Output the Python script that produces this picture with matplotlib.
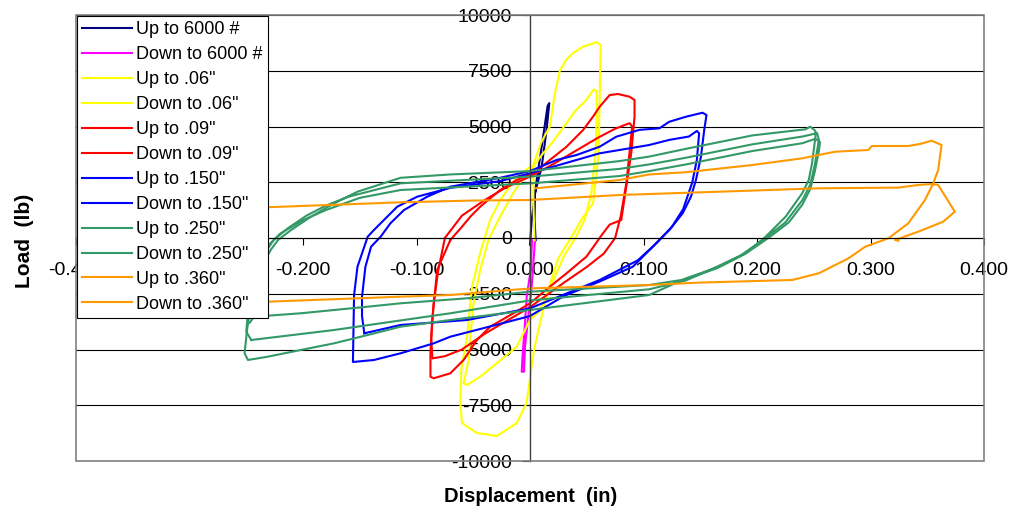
import matplotlib
matplotlib.use("Agg")
import matplotlib.pyplot as plt
from matplotlib.ticker import FixedLocator, FixedFormatter
from matplotlib.patches import Rectangle

plt.rcParams['font.family'] = ['Liberation Sans', 'DejaVu Sans']

# ---------------- data (displacement in, load lb) ----------------
labels = ['Up to 6000 #', 'Down to 6000 #', 'Up to .06"', 'Down to .06"',
          'Up to .09"', 'Down to .09"', 'Up to .150"', 'Down to .150"',
          'Up to .250"', 'Down to .250"', 'Up to .360"', 'Down to .360"']
colors = ['#000080', '#FF00FF', '#FFFF00', '#FFFF00', '#FF0000', '#FF0000',
          '#0000FF', '#0000FF', '#339966', '#339966', '#FF9900', '#FF9900']

up6000_x = [0.000, 0.0015, 0.0059, 0.0103, 0.0137, 0.0155, 0.0170, 0.0146, 0.0103, 0.0044, 0.0040, 0.0050]
up6000_y = [-300, 807, 2600, 4094, 5291, 5919, 6050, 4843, 3197, 2004, 800, -100]

dn6000_x = [0.0018, 0.0006, -0.0029, -0.0044, -0.0064, -0.0073, -0.0053, -0.0044, -0.0015, 0.0015, 0.0044]
dn6000_y = [-100, -1435, -2632, -3826, -5172, -5995, -5995, -4874, -3529, -2184, -90]

up06_x = [0.004, 0.003, 0.003, 0.010, 0.0175, 0.022, 0.0263, 0.032, 0.038, 0.0468, 0.0585, 0.0623,
          0.0618, 0.0614, 0.0605, 0.0556, 0.045, 0.036, 0.025, 0.015, 0.008, 0.003, 0.000, -0.003,
          -0.0117, -0.0292, -0.0468, -0.0599, -0.0614, -0.0605, -0.0555, -0.0511, -0.0439, -0.0351,
          -0.0263, -0.012, 0.0]
up06_y = [-100, 1500, 3300, 4300, 5000, 6500, 7500, 8000, 8300, 8580, 8780, 8650,
          7500, 6336, 3800, 1556, 800, 0, -900, -2500, -4000, -5170, -6300, -7400,
          -8300, -8880, -8744, -8300, -7400, -5900, -4426, -2184, -673, 807,
          1700, 2700, 3200]

dn06_x = [0.0, 0.010, 0.020, 0.030, 0.040, 0.0497, 0.056, 0.0585, 0.059, 0.058, 0.054, 0.048,
          0.040, 0.030, 0.018, 0.008, 0.0, -0.0117, -0.0292, -0.0439, -0.0555, -0.0585, -0.054,
          -0.0526, -0.0497, -0.0439, -0.0366, -0.028, -0.015, -0.003]
dn06_y = [3000, 3700, 4300, 5000, 5700, 6200, 6650, 6600, 6000, 4000, 2000, 800,
          0, -800, -2200, -3300, -3677, -4874, -5618, -6219, -6591, -6515, -5470,
          -4426, -2928, -1435, -90, 800, 2000, 2900]

up09_x = [-0.0702, -0.060, -0.0526, -0.0439, -0.0263, -0.0117, 0.0029, 0.0175, 0.0322, 0.0468,
          0.0555, 0.0614, 0.0702, 0.0775, 0.0877, 0.0921, 0.0921, 0.0892, 0.0848, 0.0804,
          0.0702, 0.0643, 0.0497, 0.0322, 0.0175, 0.0, -0.0146, -0.0351, -0.0468, -0.0585,
          -0.0702, -0.0848, -0.0877, -0.0877, -0.0862, -0.0818, -0.0702]
up09_y = [-90, 500, 955, 1403, 2152, 2601, 2901, 3498, 4094, 4843,
          5439, 5888, 6412, 6457, 6336, 6188, 5439, 3798, 2300, 807,
          600, 211, -838, -1583, -2184, -2928, -3376, -3977, -4574, -5470,
          -6067, -6291, -6219, -5157, -3677, -1435, -90]

dn09_x = [-0.075, -0.060, -0.040, -0.020, 0.0, 0.020, 0.040, 0.060, 0.075, 0.0877, 0.090, 0.088,
          0.085, 0.080, 0.075, 0.065, 0.050, 0.030, 0.0, -0.020, -0.040, -0.060, -0.075, -0.086,
          -0.087, -0.085, -0.081, -0.075]
dn09_y = [0, 1000, 1700, 2300, 2750, 3300, 3900, 4500, 4900, 5150, 5000, 4000,
          2500, 1000, 0, -700, -1300, -2000, -3100, -3700, -4300, -5000, -5300, -5400,
          -4500, -3000, -1500, 0]

up150_x = [-0.146, -0.148, -0.148, -0.145, -0.140, -0.1316, -0.123, -0.111, -0.0906, -0.0702,
           -0.0263, 0.0, 0.0234, 0.041, 0.0614, 0.076, 0.0965, 0.114, 0.1228, 0.1375, 0.152,
           0.1555, 0.1535, 0.1506, 0.1462, 0.1418, 0.1345, 0.1228, 0.1082, 0.0906, 0.0614,
           0.030, 0.0, -0.0263, -0.0702, -0.0848, -0.114, -0.1375, -0.156, -0.1555, -0.155,
           -0.152, -0.146, -0.143, -0.1375, -0.1316, -0.117, -0.0994, -0.0702]
up150_y = [-4274, -3500, -2632, -1287, -390, 58, 659, 1255, 1852, 2300,
           2700, 3000, 3498, 3722, 4094, 4542, 4850, 4919, 5215, 5439, 5618,
           5515, 4843, 3646, 2601, 1852, 1108, 359, -390, -1287, -1950,
           -2600, -3500, -3850, -4426, -4722, -5170, -5470, -5560, -4000, -2556,
           -1287, -390, 58, 359, 659, 1403, 1852, 2250]

dn150_x = [-0.0702, -0.0263, 0.0, 0.0614, 0.105, 0.1228, 0.140, 0.147, 0.149, 0.147, 0.143,
           0.135, 0.125, 0.110, 0.095, 0.0614, 0.0, -0.0555, -0.114, -0.146]
dn150_y = [2250, 2550, 2900, 3798, 4170, 4400, 4550, 4800, 4694, 3500, 2500,
           1300, 500, -300, -1000, -1883, -3153, -3677, -3900, -4274]

up250_x = [-0.236, -0.228, -0.222, -0.2105, -0.193, -0.1725, -0.152, -0.114, -0.0702, 0.0, 0.079,
           0.105, 0.1375, 0.1667, 0.1959, 0.2427, 0.247, 0.2515, 0.2515, 0.2485, 0.2456, 0.2398,
           0.2252, 0.2076, 0.19, 0.1667, 0.1375, 0.105, 0.0, -0.0702, -0.114, -0.143, -0.1725,
           -0.202, -0.231, -0.2485, -0.2515, -0.249, -0.244, -0.234, -0.226, -0.213, -0.197,
           -0.18, -0.16, -0.114, 0.0, 0.079, 0.105, 0.1375, 0.1667, 0.1959, 0.24, 0.253, 0.2545,
           0.251, 0.247, 0.240, 0.225, 0.205, 0.185, 0.160, 0.1375, 0.105, 0.0, -0.0702, -0.1725,
           -0.2456]
up250_y = [-1200, -500, -90, 359, 955, 1556, 2076, 2700, 2850, 3000, 3450,
           3650, 4000, 4300, 4600, 4874, 4991, 4800, 4542, 3350, 2601, 2004,
           955, 58, -686, -1287, -1807, -2556, -3228, -3677, -3977, -4350, -4722,
           -5022, -5322, -5470, -5170, -4000, -2500, -700, -100, 450, 1000,
           1450, 1850, 2452, 2750, 3100, 3300, 3600, 3900, 4200, 4550, 4700, 4400,
           3300, 2400, 1700, 700, -100, -800, -1400, -1900, -2300, -2800, -3376, -4125,
           -4574]

dn250_x = [-0.2456, -0.250, -0.247, -0.240, -0.232, -0.22, -0.2, -0.18, -0.15, -0.114, 0.0,
           0.079, 0.105, 0.1375, 0.1667, 0.1959, 0.24, 0.2515, 0.2555, 0.2545, 0.251, 0.247,
           0.240, 0.228, 0.210, 0.19, 0.165, 0.1375, 0.105, 0.0, -0.0555, -0.114, -0.143,
           -0.202, -0.243, -0.247]
dn250_y = [-4574, -4200, -2500, -1800, -400, 200, 800, 1250, 1800, 2152, 2450,
           2780, 3000, 3300, 3600, 3900, 4250, 4450, 4300, 3900, 3000, 2200,
           1500, 700, 0, -700, -1350, -1850, -2108, -2408, -2704, -2928, -3080,
           -3376, -3529, -3800]

up360_x = [0.005, 0.0789, 0.105, 0.1375, 0.1959, 0.2398, 0.269, 0.2982, 0.3011, 0.333, 0.3436,
           0.3538, 0.3626, 0.3596, 0.3553, 0.348, 0.3333, 0.3158, 0.2953, 0.2807, 0.2544, 0.231]
up360_y = [2228, 2601, 2850, 2950, 3273, 3574, 3870, 3946, 4125, 4125, 4215,
           4363, 4170, 3049, 2452, 1704, 659, -13, -390, -910, -1583, -1883]

dn360_x = [0.231, 0.149, 0.105, 0.0029, -0.0175, -0.0702, -0.114, -0.231, -0.30, -0.34, -0.36,
           -0.365, -0.36, -0.35, -0.33, -0.231, -0.114, -0.05, 0.0, 0.0789, 0.1667, 0.2544,
           0.3246, 0.342, 0.3538, 0.3596, 0.3743, 0.364, 0.342, 0.3216, 0.3246]
dn360_y = [-1883, -2000, -2108, -2256, -2332, -2556, -2632, -2856, -3100, -3400, -3587,
           -3000, -1000, 700, 1150, 1380, 1600, 1680, 1704, 1928, 2076, 2228,
           2260, 2377, 2421, 2377, 1179, 731, 282, -90, -121]

series_x = [up6000_x, dn6000_x, up06_x, dn06_x, up09_x, dn09_x,
            up150_x, dn150_x, up250_x, dn250_x, up360_x, dn360_x]
series_y = [up6000_y, dn6000_y, up06_y, dn06_y, up09_y, dn09_y,
            up150_y, dn150_y, up250_y, dn250_y, up360_y, dn360_y]

x_ticks = [-0.4, -0.3, -0.2, -0.1, 0.0, 0.1, 0.2, 0.3, 0.4]
# the -0.300 label sits completely behind the legend in the reference
x_tick_labels = ['-0.400', '', '-0.200', '-0.100', '0.000', '0.100', '0.200', '0.300', '0.400']
y_ticks = [-10000, -7500, -5000, -2500, 0, 2500, 5000, 7500, 10000]
y_tick_labels = ['-10000', '-7500', '-5000', '-2500', '0', '2500', '5000', '7500', '10000']

# ---------------- figure ----------------
W, H = 1018, 518
fig = plt.figure(figsize=(W / 100, H / 100), dpi=100)
L, R, T, B = 76, 984, 15, 461
ax = fig.add_axes([L / W, 1 - B / H, (R - L) / W, (B - T) / H])
ax.set_xlim(-0.4, 0.4)
ax.set_ylim(-10000, 10000)

for yv in y_ticks:
    ax.axhline(yv, color='black', lw=0.8, zorder=1)

for xs, ys, c, lab in zip(series_x, series_y, colors, labels):
    ax.plot(xs, ys, color=c, lw=1.5, label=lab, zorder=2)

for s in ['top', 'right']:
    ax.spines[s].set_visible(False)
ax.spines['left'].set_position(('data', 0))
ax.spines['bottom'].set_position(('data', 0))
ax.spines['left'].set_color('#404040')
ax.spines['bottom'].set_color('black')
ax.spines['left'].set_linewidth(1.0)
ax.spines['bottom'].set_linewidth(0.8)
ax.add_patch(Rectangle((0, 0), 1, 1, transform=ax.transAxes, fill=False,
                       edgecolor='#808080', lw=1.2, zorder=2.6, clip_on=False))

ax.xaxis.set_major_locator(FixedLocator(x_ticks))
ax.yaxis.set_major_locator(FixedLocator(y_ticks))
ax.xaxis.set_major_formatter(FixedFormatter(x_tick_labels))
ax.yaxis.set_major_formatter(FixedFormatter(y_tick_labels))
ax.tick_params(axis='x', direction='out', length=5, width=0.8, pad=12, labelsize=14)
ax.tick_params(axis='y', direction='out', length=6, width=0.8, pad=7, labelsize=14)

fig.text(531 / W, 1 - 497 / H, 'Displacement  (in)', ha='center', va='center',
         fontsize=14.5, fontweight='bold')
fig.text(25 / W, 1 - 241 / H, 'Load  (lb)', ha='center', va='center',
         fontsize=15, fontweight='bold', rotation=90)

leg = ax.legend(loc='upper left', bbox_to_anchor=(0, 1), borderaxespad=0.05,
                fontsize=13, frameon=True, fancybox=False, framealpha=1,
                edgecolor='black', borderpad=0.3, handlelength=2.75,
                handletextpad=0.25, labelspacing=0.44)
leg.get_frame().set_linewidth(0.8)
leg.set_zorder(10)

fig.savefig('out.png', dpi=100)
